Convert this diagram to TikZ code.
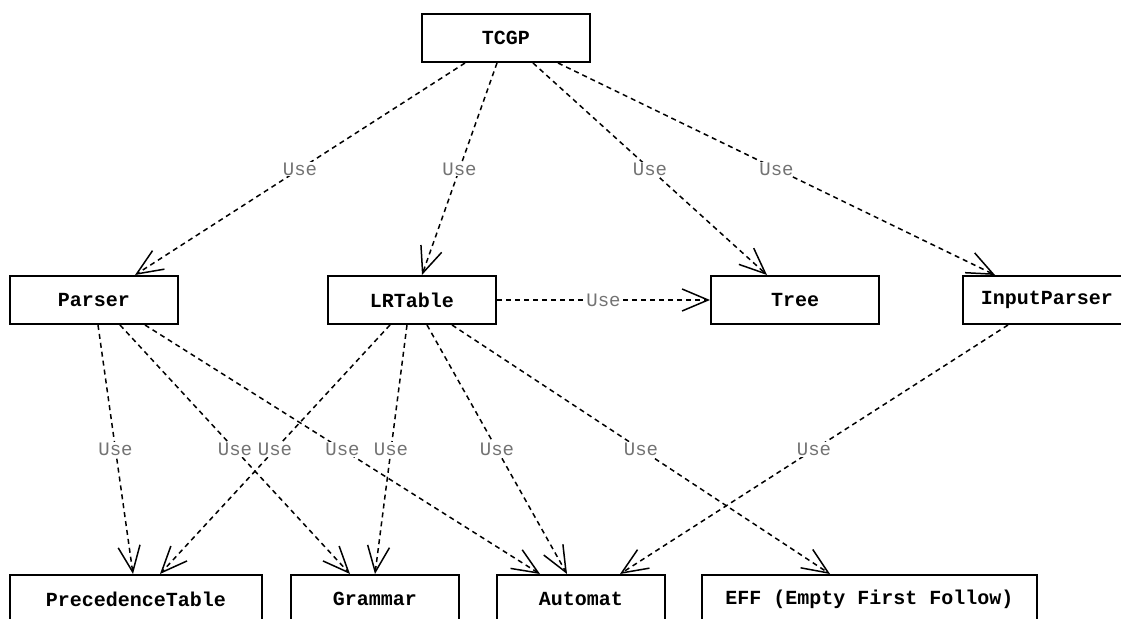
\documentclass[tikz,border=0pt]{standalone}
\usepackage{fontspec}
\setmonofont{Liberation Mono}
\usetikzlibrary{arrows.meta,calc,positioning}

\begin{document}
\begin{tikzpicture}[x=0.5pt,y=-0.5pt,
		uses/.style={dashed,line width=0.75pt,dash pattern=on 2.5pt off 2pt,
			-{Straight Barb[length=13pt,width=11pt,line width=0.75pt]}},
		lbl/.style={fill=white,inner sep=0.5pt,text=black!55,font=\ttfamily\fontsize{9.5}{11}\selectfont}]
		\tikzstyle{cls}=[draw=black,line width=1pt,rectangle,minimum width=84pt,minimum height=24pt,
			font=\ttfamily\bfseries\fontsize{10}{12}\selectfont]
		\clip (0,0) rectangle (1121,619);
		\node[cls]    (tcgp)   at (506,38)    {TCGP};
		\node[cls]    (parser) at (94,300)    {Parser};
		\node[cls]    (lrt)    at (412,300)   {LRTable};
		\node[cls]    (tree)   at (795,300)   {Tree};
		\node[cls]    (inp)    at (1047,300)  {InputParser};
		\node[cls,minimum width=126pt]   (prec) at (136,599)   {PrecedenceTable};
		\node[cls]    (gram)   at (375,599)   {Grammar};
		\node[cls]    (aut)    at (581,599)   {Automat};
		\node[cls,minimum width=167.5pt] (eff)  at (869.5,599) {EFF (Empty First Follow)};
		% TCGP
		\path[uses]
		($(tcgp.south)+(-41,0)$) edge node[lbl] {Use} ($(parser.north)+(41,0)$)
		($(tcgp.south)+(-9,0)$)  edge node[lbl] {Use} ($(lrt.north)+(10,0)$)
		($(tcgp.south)+(27,0)$)  edge node[lbl] {Use} ($(tree.north)+(-28,0)$)
		($(tcgp.south)+(52,0)$)  edge node[lbl] {Use} ($(inp.north)+(-52,0)$);
		% LRTable -> Tree
		\path[uses] (lrt.east) edge node[lbl] {Use} (tree.west);
		% Parser
		\path[uses]
		($(parser.south)+(4,0)$)  edge node[lbl] {Use} ($(prec.north)+(-3,0)$)
		($(parser.south)+(26,0)$) edge node[lbl] {Use} ($(gram.north)+(-25,0)$)
		($(parser.south)+(51,0)$) edge node[lbl] {Use} ($(aut.north)+(-41,0)$);
		% LRTable
		\path[uses]
		($(lrt.south)+(-22,0)$) edge node[lbl] {Use} ($(prec.north)+(24,0)$)
		($(lrt.south)+(-5,0)$)  edge node[lbl] {Use} (gram.north)
		($(lrt.south)+(15,0)$)  edge node[lbl] {Use} ($(aut.north)+(-14,0)$)
		($(lrt.south)+(40,0)$)  edge node[lbl] {Use} ($(eff.north)+(-39.5,0)$);
		% InputParser
		\path[uses] ($(inp.south)+(-39,0)$) edge node[lbl] {Use} ($(aut.north)+(39,0)$);
	\end{tikzpicture}
\end{document}
